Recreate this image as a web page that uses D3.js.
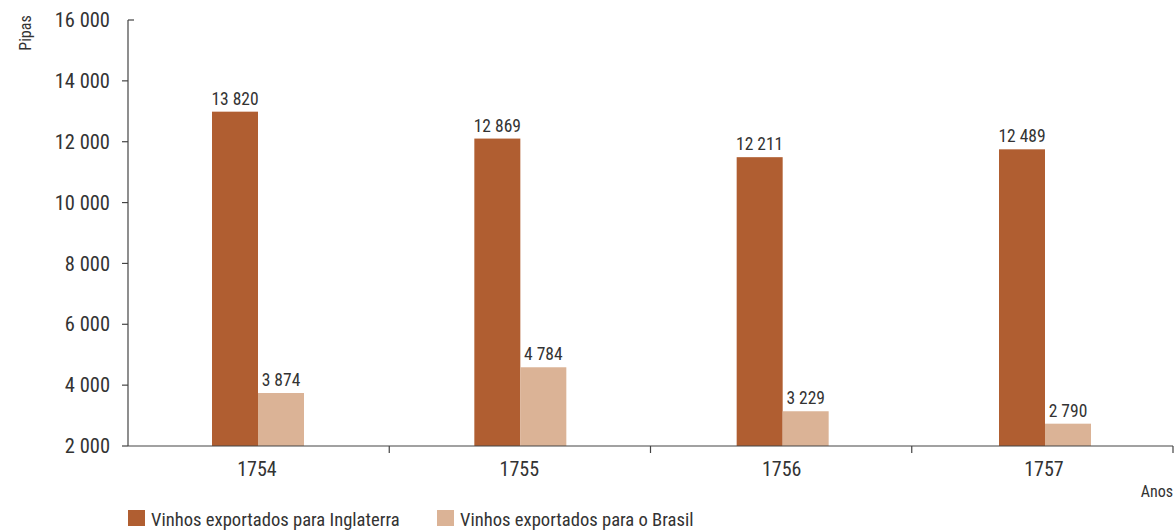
<!DOCTYPE html>
<html>
<head>
<meta charset="utf-8">
<script src="https://cdn.jsdelivr.net/npm/d3@7/dist/d3.min.js"></script>
<style>
  html, body { margin: 0; padding: 0; background: #fff; }
  svg text { font-family: "Roboto Condensed", "DejaVu Sans Condensed", sans-serif; fill: #333; }
</style>
</head>
<body>
<svg id="chart" width="1174" height="530"></svg>
<script>
const categories = ["1754", "1755", "1756", "1757"];
const seriesNames = ["Vinhos exportados para Inglaterra", "Vinhos exportados para o Brasil"];
const inglaterra = [13820, 12869, 12211, 12489];
const brasil = [3874, 4784, 3229, 2790];
const yTicks = [2000, 4000, 6000, 8000, 10000, 12000, 14000, 16000];
const colors = ["#b05e31", "#dbb396"];

(function () {
const fmt = v => d3.format(",")(v).replace(/,/g, " ");

const svg = d3.select("#chart");
const mLeft = 128, mRight = 1173, mTop = 20, mBottom = 446;

// axis scale
const y = d3.scaleLinear().domain([2000, 16000]).range([mBottom, mTop]);
// bar height scale as drawn in the reference (bars are measured from zero)
const yBar = d3.scaleLinear().domain([0, 16000]).range([502.6, 50.0]);

// category bands (axis ticks at their edges)
const x0 = d3.scaleBand().domain(categories).range([mLeft, mRight]).paddingInner(0).paddingOuter(0);
// group centres as placed in the reference
const xc = d3.scalePoint().domain(categories).range([258, 1045]);
const x1 = d3.scaleBand().domain([0, 1]).range([-46, 46]).padding(0);

const series = [inglaterra, brasil];

// bars
const g = svg.append("g");
categories.forEach((c, i) => {
  series.forEach((s, j) => {
    const v = s[i];
    const bx = xc(c) + x1(j);
    g.append("rect")
      .attr("x", bx)
      .attr("y", yBar(v))
      .attr("width", x1.bandwidth())
      .attr("height", y(2000) - yBar(v))
      .attr("fill", colors[j]);
    g.append("text")
      .attr("x", bx + x1.bandwidth() / 2)
      .attr("y", yBar(v) - 7)
      .attr("text-anchor", "middle")
      .attr("font-size", 17.5)
      .text(fmt(v));
  });
});

// y axis
const ya = svg.append("g");
ya.append("line").attr("x1", mLeft).attr("x2", mLeft).attr("y1", y(16000)).attr("y2", y(2000))
  .attr("stroke", "#444").attr("stroke-width", 1.2);
yTicks.forEach(t => {
  const top16 = t === 16000;
  ya.append("line")
    .attr("x1", mLeft).attr("x2", top16 ? mLeft + 6 : mLeft - 6)
    .attr("y1", y(t)).attr("y2", y(t))
    .attr("stroke", "#444").attr("stroke-width", 1.2);
  ya.append("text")
    .attr("x", mLeft - 18).attr("y", y(t)).attr("dy", "0.35em")
    .attr("text-anchor", "end").attr("font-size", 20.5)
    .text(fmt(t));
});

// x axis
const xa = svg.append("g");
xa.append("line").attr("x1", mLeft).attr("x2", mRight).attr("y1", mBottom).attr("y2", mBottom)
  .attr("stroke", "#444").attr("stroke-width", 1.2);
categories.forEach(c => {
  const xr = x0(c) + x0.bandwidth();
  xa.append("line").attr("x1", xr).attr("x2", xr).attr("y1", mBottom).attr("y2", mBottom + 7)
    .attr("stroke", "#444").attr("stroke-width", 1.2);
  xa.append("text")
    .attr("x", xc(c) - 1).attr("y", 476)
    .attr("text-anchor", "middle").attr("font-size", 20)
    .text(c);
});

// axis titles
svg.append("text").attr("transform", "translate(31,33) rotate(-90)")
  .attr("text-anchor", "middle").attr("font-size", 16).text("Pipas");
svg.append("text").attr("x", 1173).attr("y", 497)
  .attr("text-anchor", "end").attr("font-size", 16).text("Anos");

// legend
const legendX = [128, 437];
seriesNames.forEach((n, j) => {
  svg.append("rect").attr("x", legendX[j]).attr("y", 510).attr("width", 17).attr("height", 16)
    .attr("fill", colors[j]);
  svg.append("text").attr("x", legendX[j] + 23).attr("y", 525.5)
    .attr("font-size", 18.6).text(n);
});
})();
</script>
</body>
</html>
